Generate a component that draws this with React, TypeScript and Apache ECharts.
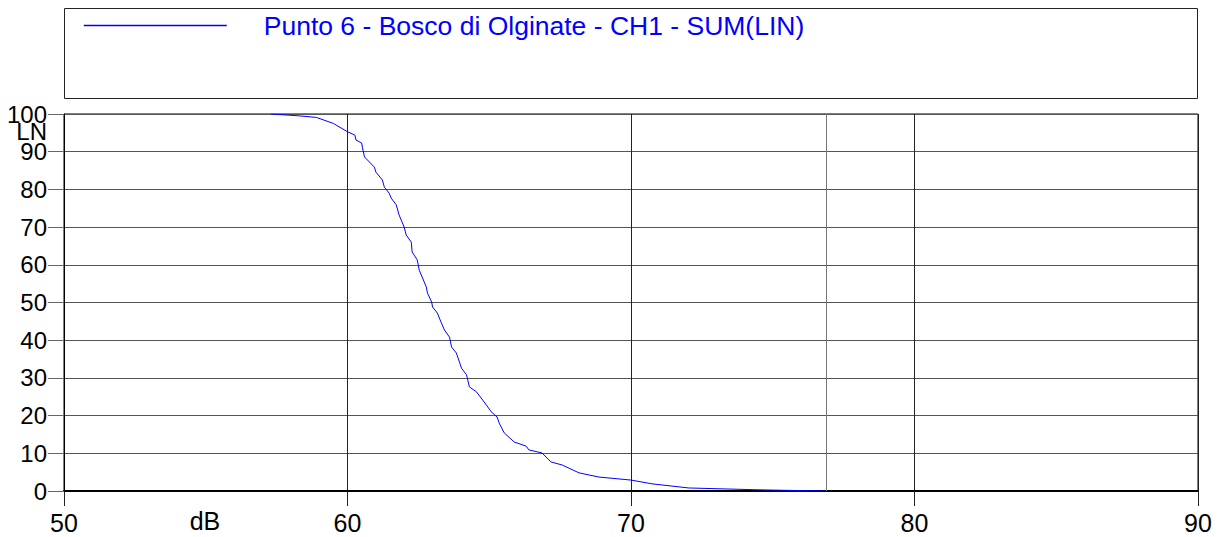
import React, { useEffect, useRef } from "react";
import * as echarts from "echarts";

const SERIES_NAME = "Punto 6 - Bosco di Olginate - CH1 - SUM(LIN)";
const X_NAME = "dB";
const Y_NAME = "LN";
const X_MIN = 50;
const X_MAX = 90;
const X_STEP = 10;
const Y_MIN = 0;
const Y_MAX = 100;
const Y_STEP = 10;
const MARKER_DB = 76.87;

const DB_VALUES = [
  57.3, 58.3, 58.9, 59.5, 60.0, 60.26, 60.3, 60.5, 60.53, 60.6, 60.95, 61.0, 61.23, 61.3,
  61.47, 61.54, 61.72, 61.82, 62.0, 62.07, 62.25, 62.28, 62.46, 62.53, 62.78, 62.82, 62.97,
  63.0, 63.17, 63.31, 63.42, 63.6, 63.67, 63.84, 63.95, 64.02, 64.2, 64.3, 64.55, 64.9,
  65.07, 65.28, 65.35, 65.53, 65.88, 66.3, 66.4, 66.86, 67.18, 67.57, 68.17, 68.87, 70.0,
  70.74, 72.04, 73.56, 74.76, 76.87,
];
const LN_VALUES = [
  100, 99.5, 99.1, 97.5, 95.3, 94.4, 93.1, 92.3, 91.0, 88.6, 85.9, 84.6, 82.5, 80.6,
  79.0, 77.7, 75.9, 73.2, 70.0, 67.9, 66.0, 63.4, 61.3, 58.6, 54.1, 52.5, 50.1,
  48.8, 47.2, 44.6, 42.7, 40.8, 38.2, 36.6, 34.2, 32.6, 30.8, 27.6, 26.3, 22.8,
  21.0, 19.6, 18.0, 15.4, 13.0, 11.9, 10.9, 10.1, 7.7, 6.9, 4.8, 3.7, 2.9,
  1.9, 0.8, 0.5, 0.27, 0,
];

const FONT = 'Arial, "Liberation Sans", sans-serif';

export default function App() {
  const ref = useRef<HTMLDivElement>(null);
  useEffect(() => {
    if (!ref.current) return;
    const chart = echarts.init(ref.current, undefined, { renderer: "svg" });
    const data = DB_VALUES.map((x, i) => [x, LN_VALUES[i]]);
    chart.setOption({
      animation: false,
      backgroundColor: "#ffffff",
      textStyle: { fontFamily: FONT },
      grid: {
        left: 64,
        top: 114,
        width: 1134,
        height: 377,
        show: true,
        borderColor: "#000",
        borderWidth: 1,
        backgroundColor: "transparent",
      },
      legend: {
        show: true,
        left: 78,
        top: 7,
        itemWidth: 143,
        itemHeight: 14,
        itemStyle: { opacity: 0 },
        lineStyle: { color: "#0000ff", width: 1.5 },
        textStyle: { color: "#0000ff", fontSize: 26.5, fontFamily: FONT, padding: [0, 0, 0, 32] },
        data: [SERIES_NAME],
      },
      xAxis: {
        type: "value",
        min: X_MIN,
        max: X_MAX,
        interval: X_STEP,
        axisLine: { show: true, onZero: false, lineStyle: { color: "#000", width: 2 } },
        axisTick: { show: true, length: 15, lineStyle: { color: "#222", width: 1 } },
        axisLabel: { color: "#000", fontSize: 25, fontFamily: FONT, margin: 19 },
        splitLine: { show: true, lineStyle: { color: "#222", width: 1 } },
      },
      yAxis: {
        type: "value",
        min: Y_MIN,
        max: Y_MAX,
        interval: Y_STEP,
        axisLine: { show: true, lineStyle: { color: "#000", width: 1 } },
        axisTick: { show: true, length: 16, lineStyle: { color: "#666", width: 1 } },
        axisLabel: { color: "#000", fontSize: 24, fontFamily: FONT, margin: 17 },
        splitLine: { show: true, lineStyle: { color: "#555", width: 1 } },
      },
      graphic: [
        {
          type: "rect",
          shape: { x: 64.5, y: 8.5, width: 1133, height: 90 },
          style: { fill: "none", stroke: "#222", lineWidth: 1 },
        },
        {
          type: "text",
          x: 47,
          y: 131,
          style: {
            text: Y_NAME,
            fill: "#000",
            font: `24px ${FONT}`,
            align: "right",
            verticalAlign: "middle",
          },
        },
        {
          type: "text",
          x: 205,
          y: 521,
          style: {
            text: X_NAME,
            fill: "#000",
            font: `25px ${FONT}`,
            align: "center",
            verticalAlign: "middle",
          },
        },
      ],
      series: [
        {
          name: SERIES_NAME,
          type: "line",
          data,
          showSymbol: false,
          symbol: "none",
          color: "#0000ff",
          lineStyle: { color: "#0000ff", width: 1 },
          itemStyle: { color: "#0000ff" },
          markLine: {
            silent: true,
            symbol: "none",
            label: { show: false },
            lineStyle: { color: "#777", width: 1, type: "solid" },
            data: [{ xAxis: MARKER_DB }],
          },
        },
      ],
    });
    return () => chart.dispose();
  }, []);
  return (
    <div
      ref={ref}
      style={{ position: "fixed", left: 0, top: 0, width: 1223, height: 537, background: "#fff" }}
    />
  );
}
